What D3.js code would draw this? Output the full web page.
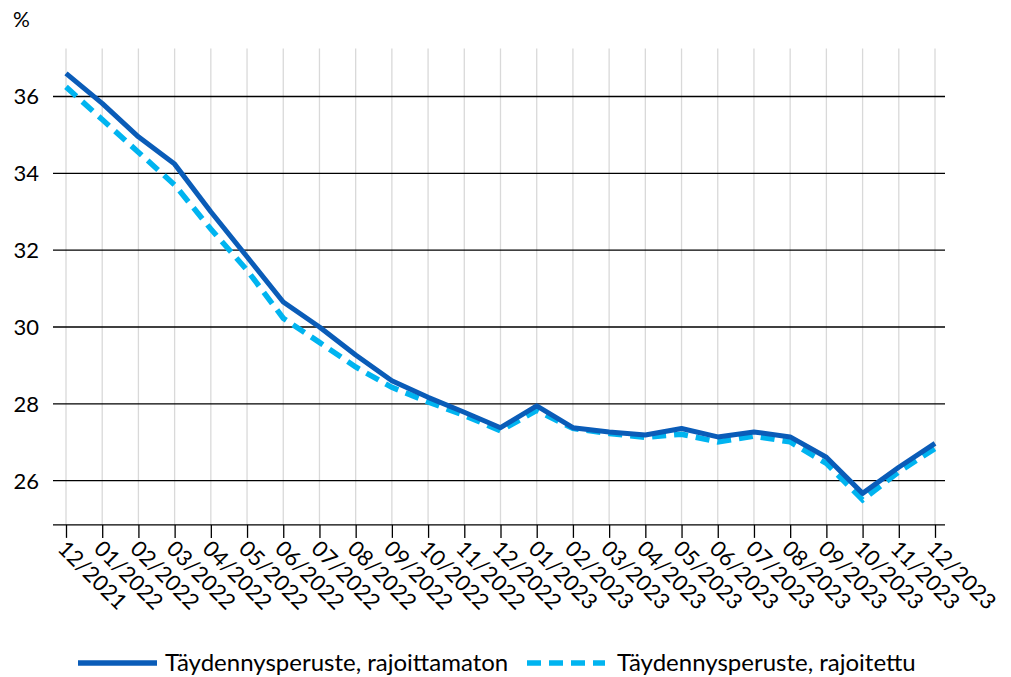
<!DOCTYPE html>
<html>
<head>
<meta charset="utf-8">
<script src="https://cdn.jsdelivr.net/npm/d3@7"></script>
<style>
  body { margin: 0; background: #fff; }
  svg text { font-family: Lato, "Open Sans", sans-serif; fill: #000; }
</style>
</head>
<body>
<div id="chart"></div>
<script>
var months = ["12/2021", "01/2022", "02/2022", "03/2022", "04/2022", "05/2022", "06/2022",
  "07/2022", "08/2022", "09/2022", "10/2022", "11/2022", "12/2022", "01/2023", "02/2023",
  "03/2023", "04/2023", "05/2023", "06/2023", "07/2023", "08/2023", "09/2023", "10/2023",
  "11/2023", "12/2023"];

var unrestricted = [36.6, 35.82, 34.95, 34.24, 33.0, 31.83, 30.65, 30.0, 29.27, 28.6, 28.17,
  27.78, 27.38, 27.95, 27.38, 27.27, 27.19, 27.36, 27.14, 27.27, 27.14, 26.61, 25.67, 26.35, 26.97];

var restricted = [36.25, 35.4, 34.55, 33.7, 32.55, 31.48, 30.23, 29.6, 28.96, 28.43, 28.05,
  27.7, 27.3, 27.83, 27.36, 27.23, 27.13, 27.21, 27.01, 27.16, 27.01, 26.45, 25.5, 26.23, 26.84];

var yTicks = [26, 28, 30, 32, 34, 36];

var seriesNames = ["Täydennysperuste, rajoittamaton", "Täydennysperuste, rajoitettu"];

var width = 1011, height = 677;

var svg = d3.select("#chart").append("svg")
  .attr("width", width)
  .attr("height", height);

// scales
var x = d3.scalePoint().domain(months).range([66, 935]);
var y = d3.scaleLinear().domain([26, 36]).range([480.7, 96.5]);

var plotLeft = 53, plotRight = 945;
var plotTop = y(37.25), plotBottom = y(24.85);

// vertical light grid
svg.append("g")
  .selectAll("line")
  .data(months)
  .enter()
  .append("line")
  .attr("x1", function (d) { return x(d); })
  .attr("x2", function (d) { return x(d); })
  .attr("y1", plotTop)
  .attr("y2", plotBottom)
  .attr("stroke", "#d9d9d9")
  .attr("stroke-width", 1.3);

// horizontal grid
svg.append("g")
  .selectAll("line")
  .data(yTicks)
  .enter()
  .append("line")
  .attr("x1", plotLeft)
  .attr("x2", plotRight)
  .attr("y1", function (d) { return y(d); })
  .attr("y2", function (d) { return y(d); })
  .attr("stroke", "#000")
  .attr("stroke-width", 1.3);

// y labels
svg.append("g")
  .selectAll("text")
  .data(yTicks)
  .enter()
  .append("text")
  .attr("x", 39)
  .attr("y", function (d) { return y(d); })
  .attr("dy", "0.36em")
  .attr("text-anchor", "end")
  .style("font-size", "22px")
  .text(function (d) { return d; });

svg.append("text")
  .attr("x", 13)
  .attr("y", 27)
  .style("font-size", "21px")
  .text("%");

// x axis
var xAxis = d3.axisBottom(x).tickSize(13).tickSizeOuter(0).tickPadding(4);
var gx = svg.append("g")
  .attr("transform", "translate(0," + plotBottom + ")")
  .call(xAxis);
gx.select(".domain").remove();
gx.selectAll(".tick line").attr("stroke", "#000").attr("stroke-width", 1.3);
gx.append("line")
  .attr("x1", plotLeft).attr("x2", plotRight)
  .attr("y1", 0).attr("y2", 0)
  .attr("stroke", "#000").attr("stroke-width", 1.3);
gx.selectAll(".tick text")
  .attr("text-anchor", "start")
  .attr("y", 0)
  .attr("dy", 0)
  .attr("transform", "translate(-10,25) rotate(45)")
  .style("font-family", "Lato, 'Open Sans', sans-serif")
  .style("font-size", "22px")
  .attr("fill", "#000");

// lines
var line = d3.line()
  .x(function (d, i) { return x(months[i]); })
  .y(function (d) { return y(d); });

svg.append("path")
  .datum(restricted)
  .attr("fill", "none")
  .attr("stroke", "#00b4f0")
  .attr("stroke-width", 5.5)
  .attr("stroke-dasharray", "14,8")
  .attr("d", line);

svg.append("path")
  .datum(unrestricted)
  .attr("fill", "none")
  .attr("stroke", "#0a5cb8")
  .attr("stroke-width", 5)
  .attr("stroke-linejoin", "round")
  .attr("d", line);

// legend
var legend = svg.append("g");
legend.append("line")
  .attr("x1", 78).attr("x2", 157).attr("y1", 663).attr("y2", 663)
  .attr("stroke", "#0a5cb8").attr("stroke-width", 5.5);
legend.append("text")
  .attr("x", 165).attr("y", 671)
  .style("font-size", "24px")
  .text(seriesNames[0]);
legend.append("line")
  .attr("x1", 527).attr("x2", 605).attr("y1", 663).attr("y2", 663)
  .attr("stroke", "#00b4f0").attr("stroke-width", 5.5)
  .attr("stroke-dasharray", "14,8");
legend.append("text")
  .attr("x", 617).attr("y", 671)
  .style("font-size", "24px")
  .text(seriesNames[1]);
</script>
</body>
</html>
